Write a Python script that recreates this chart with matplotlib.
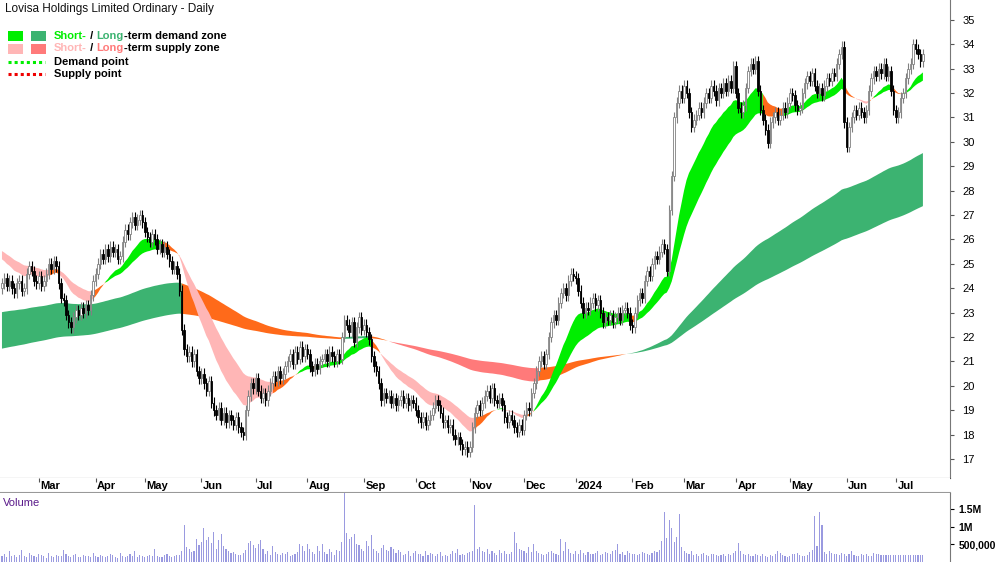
import numpy as np
import pandas as pd
import matplotlib
matplotlib.use("Agg")
import matplotlib.pyplot as plt
from matplotlib.patches import Rectangle

plt.rcParams['font.family'] = ['Liberation Sans', 'DejaVu Sans']

START = "2023-02-08"
closes = [
 24.2,24.4,24.1,24.3,24.0,23.8,24.2,24.3,23.9,24.0, 24.6,24.9,24.7, 24.3,24.2,24.5,24.1,24.3,
 24.6,25.0,24.8,25.1,24.9, 24.2,23.6,23.5, 22.9,22.6,22.4,22.8, 23.1,22.9,23.2,23.0,23.3,23.1,
 23.7,24.3,24.6, 25.0,25.4,25.2, 25.6,25.3,25.7,25.5,25.6, 25.2,25.3, 25.9,26.4,26.2,
 26.7,26.9,26.6,26.8,27.0,26.7, 26.3,26.1,25.9,26.2,26.0, 25.6,25.8,25.5,25.7,25.4,
 25.1,24.8,24.9,24.6, 23.9,22.3, 21.5,21.2,21.4,21.0,21.3, 20.6,20.3,20.5, 20.1,19.8,20.2,
 19.3,19.0,18.8,19.1, 18.6,18.9,18.5,18.8,18.6,18.4,18.7, 18.3,18.1,18.0, 19.0,
 19.6,20.1,19.9,20.3,19.8, 19.5,19.7,19.4,19.8, 20.1,20.4,20.2,20.6,20.3,20.5,20.8,
 21.0,21.3,20.9,21.4,21.1,21.6,21.2, 21.5,21.3,20.8,20.6,20.9,20.7,21.0,
 21.1,21.3,21.0,21.4,21.2,21.0,21.3,21.1, 22.0,22.7,22.5, 22.2,22.6,21.8,22.4,22.8,22.3,22.5,22.2,
 21.9, 21.2,20.8,20.6, 20.1, 19.4,19.7,19.5,19.6,
 19.3,19.5,19.2,19.4,19.6,19.3,19.5,19.2,19.4,19.3,19.0, 18.7,18.5,18.7,18.4,18.6,18.8,
 19.1,19.4,19.2,18.9, 18.5,18.6,18.3,18.4, 18.0,17.8,17.9,17.6, 17.4,17.5,17.3,17.5, 18.3,
 18.9,19.2,19.0,19.3, 19.6,19.8,19.5,19.9, 19.4,19.3,19.5,19.2, 18.7,18.5,18.8,18.6,
 18.3,18.1,18.4,18.2, 18.8,19.1,19.0, 19.7,20.1, 20.6,21.0,21.2,20.9,21.3, 22.0,22.6,22.9,22.7,
 23.4,23.8,24.0,23.7, 24.3,24.6,24.5,24.4, 23.9, 23.4,23.0,23.2,23.1, 23.4,23.6,23.3,23.5,
 23.0,22.6,22.8, 22.7,22.9,22.6,22.8,23.0,22.7, 23.1,23.2,23.0, 22.5,22.4,23.0, 23.5,23.8,23.6,
 24.3,24.7,24.5, 25.0,25.3,25.2, 25.5,25.8,25.6, 24.7, 27.2, 28.6, 31.0,31.6, 32.1,31.8,32.3,32.0,
 31.2,30.6,30.9, 31.1,31.4,31.2,31.6, 32.0,31.8,32.3,32.1,31.7,32.2,32.0, 32.4,32.1,32.5,32.2,
 33.1, 32.0,31.4,31.2,31.5, 32.2,32.9,33.2,33.0,33.3, 32.1, 31.3,30.9,30.5,29.95,
 30.8,31.0,31.2,30.9,31.1, 31.4,31.2,31.6,32.0,31.9,31.5,31.3,31.4, 32.0,32.4,32.7,32.5,32.8,
 32.3,32.0,32.2,31.9, 32.3,32.6,32.5,32.8,32.7, 33.2,33.6,33.9, 30.8, 29.8, 30.6,
 31.0,31.3,31.1,31.4,31.2,31.0,31.3, 32.1,32.6,32.9,32.7, 33.0,32.8,33.2,32.7,32.9, 32.1,
 31.3,31.0,31.2, 31.8,32.0, 32.6,33.0,33.2, 34.0,33.8, 33.6,33.3,33.6]
first_open = 24.0
volume_k = [
 180,220,150,320,160,210,140,190,330,170,150,260,200,170,140,230,190,160,120,250,180,140,210,160,170,
 350,220,160,140,190,240,150,130,200,170,180,150,260,160,140,210,180,150,170,230,190,140,120,260,160,
 140,180,220,160,300,150,190,170,140,160,200,180,360,170,150,130,190,220,160,140,180,200,210,300,
 1050,420,360,280,320,640,480,560,950,620,700,540,850,380,620,800,460,380,300,250,280,220,190,200,
 260,340,550,600,480,400,520,620,360,240,300,210,460,280,230,200,250,220,280,160,200,240,
 280,500,440,300,520,380,270,240,450,300,500,280,220,360,280,190,340,300,560,1950,820,640,
 700,780,520,480,360,300,580,450,760,380,300,260,400,480,340,300,420,380,260,340,
 280,200,240,300,180,260,320,240,220,170,300,200,260,220,180,240,280,160,200,180,
 220,300,260,360,200,240,190,260,280,320,1600,360,420,300,280,360,240,300,260,200,
 340,260,300,240,220,280,850,540,380,340,300,260,420,280,520,300,260,220,200,240,
 280,300,260,240,200,650,320,560,380,260,240,300,220,340,260,200,280,240,220,260,
 300,200,240,280,260,220,300,340,520,240,280,200,300,260,240,220,200,240,280,260,
 220,200,260,300,280,340,600,1400,680,1200,950,560,700,1350,420,300,260,220,300,200,
 240,180,220,260,200,180,240,220,190,160,200,240,180,220,200,260,300,540,320,240,
 200,220,180,160,240,200,180,220,160,140,200,180,240,300,260,200,180,140,180,220,
 240,260,200,180,160,200,280,340,1300,460,1400,1050,280,220,300,260,240,220,200,260,
 240,180,220,300,200,160,180,220,200,240,160,180,260,220,240,200]
month_labels = ["Mar","Apr","May","Jun","Jul","Aug","Sep","Oct","Nov","Dec","2024",
                "Feb","Mar","Apr","May","Jun","Jul"]
price_ticks = list(range(17, 36))
vol_ticks = [500000, 1000000, 1500000]
vol_tick_labels = ["500,000", "1M", "1.5M"]
seed_short = (25.3, 25.6)
seed_long = (23.0, 21.5)

c = np.array(closes)
n = len(c)
dates = pd.bdate_range(START, periods=n)
vol = np.array(volume_k[:n] + [200] * max(0, n - len(volume_k))) * 1000.0
o = np.concatenate([[first_open], c[:-1]])
hi = np.maximum(o, c) + 0.22
lo = np.minimum(o, c) - 0.22
x = np.arange(n)

def ema(v, span, seed):
    a = 2.0 / (span + 1)
    out = np.empty(len(v)); e = seed
    for i, val in enumerate(v):
        e = e + a * (val - e); out[i] = e
    return out

sf, ss = ema(c, 18, seed_short[0]), ema(c, 34, seed_short[1])
lf, ls = ema(c, 150, seed_long[0]), ema(c, 260, seed_long[1])

fig = plt.figure(figsize=(10, 5.62), dpi=100)
ax = fig.add_axes([0, 0.1495, 0.95, 0.8505])
axd = fig.add_axes([0, 0.1228, 0.95, 0.0267])
axv = fig.add_axes([0, 0.0, 0.95, 0.1228])
XL = (-0.8, n + 10)

def band(f, s, cdem, csup, corange, init_bull):
    trend_up = f >= s
    bull = np.empty(n, bool); st = init_bull
    for i in range(n):
        if c[i] > max(f[i], s[i]):
            st = True
        elif c[i] < min(f[i], s[i]):
            st = False
        bull[i] = st
    dem = trend_up & bull
    sup = (~trend_up) & (~bull)
    oran = ~(dem | sup)
    for m, col in ((dem, cdem), (sup, csup), (oran, corange)):
        mm = m.copy(); mm[1:] |= m[:-1]
        ax.fill_between(x, f, s, where=mm, color=col, lw=0, zorder=1)

band(lf, ls, '#3cb371', '#ff7a7a', '#ff6a1a', True)
band(sf, ss, '#00ee00', '#ffb6b6', '#ff6a1a', True)

up = c >= o
w = 0.6
for i in range(n):
    col = '#808080' if up[i] else 'black'
    ax.vlines(x[i], lo[i], hi[i], color=col, lw=0.8, zorder=3)
    b0, b1 = min(o[i], c[i]), max(o[i], c[i])
    ax.add_patch(Rectangle((x[i] - w / 2, b0), w, max(b1 - b0, 0.03),
                           facecolor='white' if up[i] else 'black',
                           edgecolor=col, lw=0.6, zorder=4))

ax.set_xlim(*XL)
ax.set_ylim(16.22, 35.81)
ax.yaxis.tick_right()
ax.set_yticks(price_ticks)
ax.tick_params(axis='y', direction='out', length=3, labelsize=8, colors='#555555', pad=6)
for t in ax.get_yticklabels():
    t.set_color('black')
ax.set_xticks([])
for s in ('top', 'left'):
    ax.spines[s].set_visible(False)
ax.spines['right'].set_color('#777777')
ax.spines['bottom'].set_color('#555555')

ax.text(0.005, 0.993, "Lovisa Holdings Limited Ordinary - Daily", transform=ax.transAxes,
        fontsize=8.5, va='top', ha='left', color='#111111')

def fy(ypx):
    return 1 - ypx / 478.0
def fx(xpx):
    return xpx / 950.0
ax.add_patch(Rectangle((fx(8), fy(41)), fx(15), 10 / 478, transform=ax.transAxes, color='#00ee00', lw=0))
ax.add_patch(Rectangle((fx(31), fy(41)), fx(15), 10 / 478, transform=ax.transAxes, color='#3cb371', lw=0))
ax.add_patch(Rectangle((fx(8), fy(54)), fx(15), 10 / 478, transform=ax.transAxes, color='#ffb6b6', lw=0))
ax.add_patch(Rectangle((fx(31), fy(54)), fx(15), 10 / 478, transform=ax.transAxes, color='#ff7a7a', lw=0))
ax.plot([fx(8), fx(45)], [fy(62), fy(62)], transform=ax.transAxes, color='#00ee00', lw=2.2, ls=(0, (1, 1)))
ax.plot([fx(8), fx(45)], [fy(74), fy(74)], transform=ax.transAxes, color='#ee0000', lw=2.2, ls=(0, (1, 1)))
def seg_text(ypx, parts):
    xx = fx(54)
    r = fig.canvas.get_renderer()
    for s_, col in parts:
        t = ax.text(xx, fy(ypx), s_, transform=ax.transAxes, fontsize=8, fontweight='bold',
                    color=col, va='center', ha='left')
        bb = t.get_window_extent(renderer=r)
        xx += bb.width / (0.95 * 1000)
seg_text(36, [("Short-", '#00ee00'), (" / ", 'black'), ("Long", '#3cb371'), ("-term demand zone", 'black')])
seg_text(48, [("Short-", '#ffb6b6'), (" / ", 'black'), ("Long", '#ff7a7a'), ("-term supply zone", 'black')])
seg_text(62, [("Demand point", 'black')])
seg_text(74, [("Supply point", 'black')])

axd.set_xlim(*XL); axd.set_ylim(0, 1)
axd.set_xticks([]); axd.set_yticks([])
for s in ('top', 'left', 'right'):
    axd.spines[s].set_visible(False)
axd.spines['bottom'].set_color('#999999'); axd.spines['bottom'].set_linewidth(1.5)
mstarts = [i for i in range(1, n) if dates[i].month != dates[i - 1].month]
for i, lab in zip(mstarts, month_labels):
    axd.vlines(i, 0.75, 1.0, color='#555555', lw=0.8)
    axd.text(i + 0.6, 0.45, lab, fontsize=8, fontweight='bold', va='center', ha='left')

axv.bar(x, vol, width=0.45, color='#9a9ae0', lw=0)
axv.set_xlim(*XL); axv.set_ylim(0, 1.95e6)
axv.yaxis.tick_right()
axv.set_yticks(vol_ticks); axv.set_yticklabels(vol_tick_labels, fontsize=7.5, fontweight='bold')
axv.tick_params(axis='y', direction='out', length=3, pad=3)
axv.set_xticks([])
for s in ('top', 'left', 'bottom'):
    axv.spines[s].set_visible(False)
axv.spines['right'].set_color('#777777')
axv.text(0.003, 0.93, "Volume", transform=axv.transAxes, fontsize=8, color='#5a1a8a', va='top')

fig.savefig("out.png", dpi=100)
